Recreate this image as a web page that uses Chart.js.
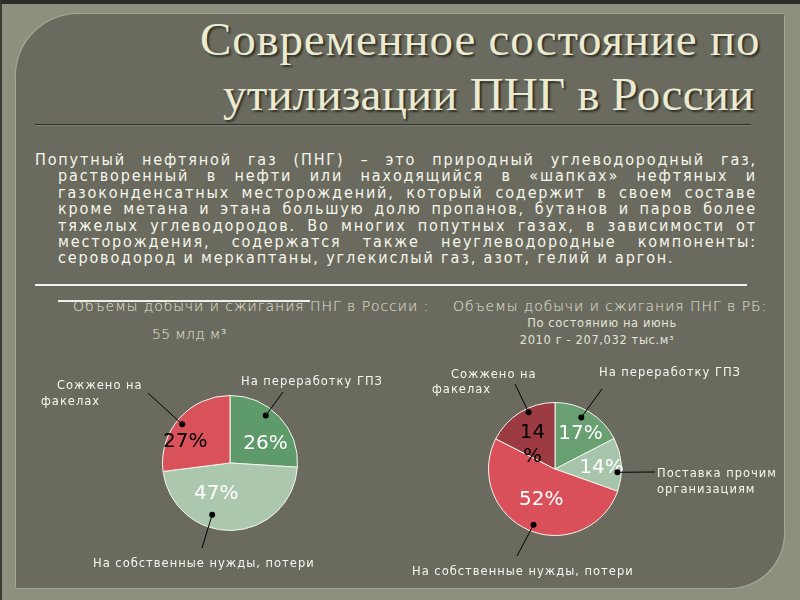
<!DOCTYPE html>
<html lang="ru">
<head>
<meta charset="utf-8">
<script src="https://cdn.jsdelivr.net/npm/chart.js@4/dist/chart.umd.min.js"></script>
<style>
  body { margin: 0; width: 800px; height: 600px; background: #8d907f; position: relative; overflow: hidden; font-family: "DejaVu Sans", sans-serif; }
  #frame { position: absolute; left: 0; top: 0; width: 798px; height: 596px; border-top: 4px solid #2b2c27; border-left: 2px solid #3a3b34; }
  #panel { position: absolute; left: 16px; top: 14px; width: 768px; height: 574px; background: #6a6b5e;
           border-radius: 62px 0 55px 0; box-shadow: -1px -1px 0 #a4a792, 1px 1px 0 #a4a792; }
  .title { position: absolute; color: #ecebd2; font-family: "Liberation Serif", serif; font-size: 47px;
           text-shadow: 2px 2px 2px #2e2f29; white-space: nowrap; }
  #rule1 { position: absolute; left: 35px; top: 124px; width: 716px; height: 1px; background: #2c3328; box-shadow: 0 1px 0 #7f8272; }
  #para { position: absolute; left: 35px; top: 152px; width: 722px; color: #f6f6ec; font-family: "DejaVu Sans Condensed", "DejaVu Sans", sans-serif;
          font-stretch: condensed; font-size: 16px; line-height: 16.4px; letter-spacing: 1.85px; }
  #para div { white-space: nowrap; text-align: justify; text-align-last: justify; margin-left: 23px; }
  #para div.first { margin-left: 0; }
  #para div.last { text-align-last: left; }
  #rule2 { position: absolute; left: 35px; top: 284px; width: 712px; height: 2px; background: #f4f4ee; }
  #rule3 { position: absolute; left: 58px; top: 300px; width: 252px; height: 1.5px; background: #f0f0ea; }
  .sub { position: absolute; color: #e6e6dc; font-size: 14px; white-space: nowrap; font-weight: 200; letter-spacing: 0.95px; }
  .small { position: absolute; color: #e2e2da; font-size: 11.5px; white-space: nowrap; text-align: center; letter-spacing: 0.6px; }
  canvas { position: absolute; }
</style>
</head>
<body>
<div id="frame"></div>
<div id="panel"></div>
<div class="title" style="left:200px; top:12px; letter-spacing:0.8px">Современное состояние по</div>
<div class="title" style="left:223px; top:67px; letter-spacing:0.2px">утилизации ПНГ в России</div>
<div id="rule1"></div>
<div id="para">
  <div class="first">Попутный нефтяной газ (ПНГ) – это природный углеводородный газ,</div>
  <div>растворенный в нефти или находящийся в «шапках» нефтяных и</div>
  <div>газоконденсатных месторождений, который содержит в своем составе</div>
  <div>кроме метана и этана большую долю пропанов, бутанов и паров более</div>
  <div>тяжелых углеводородов. Во многих попутных газах, в зависимости от</div>
  <div>месторождения, содержатся также неуглеводородные компоненты:</div>
  <div class="last">сероводород и меркаптаны, углекислый газ, азот, гелий и аргон.</div>
</div>
<div id="rule2"></div>
<div id="rule3"></div>
<div class="sub" style="left:73px; top:298px">Объемы добычи и сжигания ПНГ в России :</div>
<div class="sub" style="left:152px; top:326px; letter-spacing:0.3px">55 млд м³</div>
<div class="sub" style="left:453px; top:298px">Объемы добычи и сжигания ПНГ в РБ:</div>
<div class="small" style="left:502px; top:316px; width:200px">По состоянию на июнь</div>
<div class="small" style="left:497px; top:333px; width:200px">2010 г - 207,032 тыс.м³</div>
<canvas id="russia" width="400" height="230" style="left:20px; top:355px"></canvas>
<canvas id="rb" width="395" height="230" style="left:400px; top:355px"></canvas>
<script>
// Россия, 55 млд м3
const ruLabels = ['На переработку ГПЗ', 'На собственные нужды, потери', 'Сожжено на факелах'];
const ruValues = [26, 47, 27];
const ruColors = ['#5f9a6b', '#abc8ae', '#d9525a'];

// РБ, июнь 2010 (slice sizes, printed labels kept as shown)
const rbLabels = ['На переработку ГПЗ', 'Поставка прочим организациям', 'На собственные нужды, потери', 'Сожжено на факелах'];
const rbValues = [17.4, 13, 52, 17.5];
const rbText = ['17%', '14%', '52%', '14\n%'];
const rbColors = ['#68a072', '#a6c5ab', '#d9505a', '#9b3a41'];

// where to print the % inside each slice: angle from 12 o'clock (deg), fraction of radius
const ruPct = [[61, 0.60, '#fff'], [204, 0.50, '#fff'], [295, 0.73, '#000']];
const rbPct = [[36, 0.65, '#fff'], [88, 0.70, '#fff'], [204, 0.51, '#fff'], [328, 0.64, '#000']];

// callouts: dot (angle, radius fraction), end of leader line, text lines
const ruCallouts = [
  { dot: [309, 0.91], end: [128, 38], lines: [['Сожжено на', 37, 34], ['факелах', 21, 50]] },
  { dot: [37, 0.88], end: [263, 37], lines: [['На переработку ГПЗ', 221, 30]] },
  { dot: [199, 0.81], end: [182, 193], lines: [['На собственные нужды, потери', 73, 212]] },
];
const rbCallouts = [
  { dot: [335, 0.94], end: [115, 29], lines: [['Сожжено на', 51, 23], ['факелах', 32, 38]] },
  { dot: [27, 0.87], end: [202, 34], lines: [['На переработку ГПЗ', 199, 21]] },
  { dot: [93, 0.94], end: [255, 117], lines: [['Поставка прочим', 257, 122], ['организациям', 257, 138]] },
  { dot: [201, 0.90], end: [117, 201], lines: [['На собственные нужды, потери', 12, 220]] },
];

function polar(arc, deg, frac) {
  const a = deg * Math.PI / 180;
  return [arc.x + arc.outerRadius * frac * Math.sin(a), arc.y - arc.outerRadius * frac * Math.cos(a)];
}

const decorations = {
  id: 'decorations',
  afterDraw(chart, args, opts) {
    const ctx = chart.ctx;
    const arc = chart.getDatasetMeta(0).data[0];
    ctx.save();
    // percentages
    ctx.font = '20px "DejaVu Sans"';
    ctx.textAlign = 'center';
    ctx.textBaseline = 'middle';
    opts.pct.forEach((p, i) => {
      const [x, y] = polar(arc, p[0], p[1]);
      ctx.fillStyle = p[2];
      opts.text[i].split('\n').forEach((t, k) => ctx.fillText(t, x, y + k * 24));
    });
    // leader lines + labels
    ctx.font = '11.5px "DejaVu Sans"';
    ctx.letterSpacing = '1px';
    ctx.textAlign = 'left';
    ctx.textBaseline = 'alphabetic';
    opts.callouts.forEach(c => {
      const [x, y] = polar(arc, c.dot[0], c.dot[1]);
      ctx.strokeStyle = '#000';
      ctx.lineWidth = 1;
      ctx.beginPath();
      ctx.moveTo(c.end[0], c.end[1]);
      ctx.lineTo(x, y);
      ctx.stroke();
      ctx.fillStyle = '#000';
      ctx.beginPath();
      ctx.arc(x, y, 3, 0, Math.PI * 2);
      ctx.fill();
      ctx.fillStyle = '#f6f6f0';
      c.lines.forEach(l => ctx.fillText(l[0], l[1], l[2]));
    });
    ctx.restore();
  }
};

function makePie(id, labels, values, colors, padding, deco) {
  new Chart(document.getElementById(id), {
    type: 'pie',
    data: {
      labels: labels,
      datasets: [{
        data: values,
        backgroundColor: colors,
        borderColor: '#f4f4f0',
        borderWidth: 1,
      }]
    },
    options: {
      responsive: false,
      animation: false,
      layout: { padding: padding },
      plugins: {
        legend: { display: false },
        tooltip: { enabled: false },
        decorations: deco
      }
    },
    plugins: [decorations]
  });
}

makePie('russia', ruLabels, ruValues, ruColors, { left: 142, right: 122, top: 40, bottom: 54 },
  { pct: ruPct, text: ruValues.map(v => v + '%'), callouts: ruCallouts });
makePie('rb', rbLabels, rbValues, rbColors, { left: 88, right: 173, top: 47, bottom: 49 },
  { pct: rbPct, text: rbText, callouts: rbCallouts });
</script>
</body>
</html>
